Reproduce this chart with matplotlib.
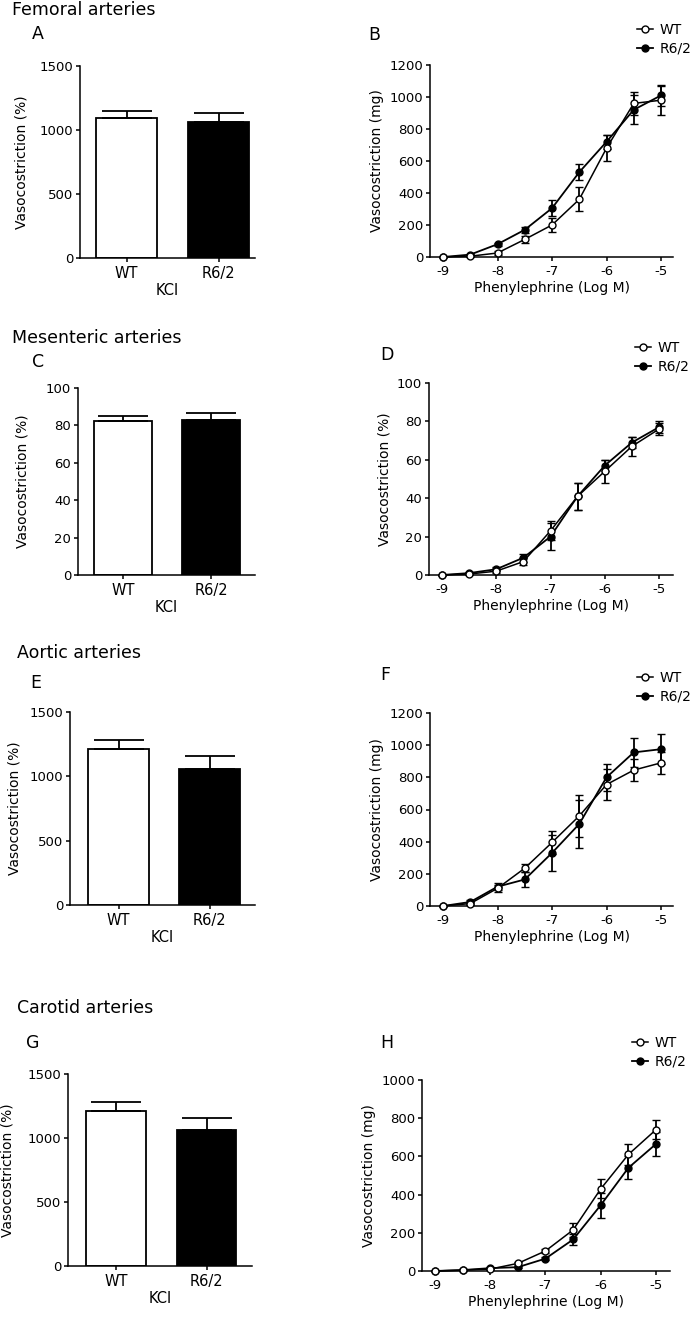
import matplotlib
matplotlib.use("Agg")
import matplotlib.pyplot as plt

# ---------------- data ----------------
groups = ["WT", "R6/2"]
log_pe = [-9, -8.5, -8, -7.5, -7, -6.5, -6, -5.5, -5]

femoral_kcl = [1095, 1060]
femoral_kcl_err = [55, 70]
mesenteric_kcl = [82.5, 83]
mesenteric_kcl_err = [2.5, 3.5]
aortic_kcl = [1210, 1060]
aortic_kcl_err = [75, 95]
carotid_kcl = [1210, 1060]
carotid_kcl_err = [75, 95]

fem_wt = [0, 5, 25, 110, 200, 360, 680, 960, 980]
fem_wt_err = [0, 5, 10, 20, 45, 75, 80, 70, 90]
fem_r62 = [0, 15, 80, 170, 305, 530, 720, 920, 1010]
fem_r62_err = [0, 5, 10, 20, 50, 50, 45, 90, 65]

mes_wt = [0, 0.5, 2, 7, 23, 41, 54, 67, 76]
mes_wt_err = [0, 0.5, 1, 2, 5, 7, 6, 5, 3]
mes_r62 = [0, 1, 3, 9, 20, 41, 57, 69, 77]
mes_r62_err = [0, 0.5, 1, 2, 7, 7, 3, 3, 3]

aor_wt = [0, 15, 110, 235, 395, 560, 755, 845, 890]
aor_wt_err = [0, 8, 20, 25, 70, 130, 95, 70, 70]
aor_r62 = [0, 25, 120, 165, 330, 510, 800, 955, 975]
aor_r62_err = [0, 10, 20, 45, 110, 150, 85, 90, 95]

car_wt = [0, 5, 10, 40, 105, 215, 430, 610, 740]
car_wt_err = [0, 3, 5, 8, 12, 35, 50, 55, 50]
car_r62 = [0, 5, 15, 20, 65, 165, 345, 540, 665]
car_r62_err = [0, 3, 5, 5, 10, 30, 65, 60, 65]

section_titles = ["Femoral arteries", "Mesenteric arteries", "Aortic arteries", "Carotid arteries"]

# ---------------- layout (pixels) ----------------
W, H = 697, 1320
FONT = "DejaVu Sans"
plt.rcParams["font.family"] = [FONT]

fig = plt.figure(figsize=(W / 100, H / 100), dpi=100)


def px_axes(x0, x1, ytop, ybot):
    return fig.add_axes([x0 / W, 1 - ybot / H, (x1 - x0) / W, (ybot - ytop) / H])


def style(ax):
    for s in ["top", "right"]:
        ax.spines[s].set_visible(False)
    for s in ["left", "bottom"]:
        ax.spines[s].set_linewidth(1.1)
    ax.tick_params(direction="out", length=3, width=1.1, labelsize=9.5, pad=2)


def ftext(x, y, s, **kw):
    fig.text(x / W, 1 - y / H, s, **kw)


bar_layout = [
    # x0, x1, ytop, ybot, c0, c1, ylabel_x
    (80, 255, 66, 258, 126.5, 218.5, 22),
    (78, 255, 388, 575, 123, 211, 23),
    (70, 255, 712, 905, 118.5, 209.5, 15),
    (68, 252, 1074, 1266, 116, 206.5, 8),
]
bar_data = [
    (femoral_kcl, femoral_kcl_err, 1500, 500),
    (mesenteric_kcl, mesenteric_kcl_err, 100, 20),
    (aortic_kcl, aortic_kcl_err, 1500, 500),
    (carotid_kcl, carotid_kcl_err, 1500, 500),
]

for (x0, x1, yt, yb, c0, c1, ylx), (vals, errs, ymax, step) in zip(bar_layout, bar_data):
    ax = px_axes(x0, x1, yt, yb)
    style(ax)
    sp = c1 - c0
    xpos = [0, 1]
    ax.bar(xpos, vals, width=0.66, color=["white", "black"], edgecolor="black",
           linewidth=1.3, zorder=2)
    ax.errorbar(xpos, vals, yerr=[[0, 0], errs], fmt="none", ecolor="black",
                elinewidth=1.3, capsize=18, capthick=1.3, zorder=3)
    ax.set_xlim(-(c0 - x0) / sp, 1 + (x1 - c1) / sp)
    ax.set_ylim(0, ymax)
    ax.set_yticks(list(range(0, ymax + 1, step)))
    ax.set_xticks(xpos)
    ax.set_xticklabels(groups, fontsize=10.5)
    ax.tick_params(axis="x", pad=3)
    ax.set_xlabel("KCl", fontsize=10.5, labelpad=1)
    ftext(ylx, (yt + yb) / 2, "Vasocostriction (%)", rotation=90, ha="center",
          va="center", fontsize=10)

line_layout = [
    # x0, x1, ytop, ybot, px of -9, px of -5, legend handle left, legend first row y
    (430, 673, 65, 257, 443, 661, 637, 32),
    (429, 673, 383, 575, 442, 659, 635, 350),
    (430, 673, 713, 906, 443, 661, 637, 680),
    (422, 670, 1080, 1271, 435, 656, 632, 1045),
]
line_data = [
    (fem_wt, fem_wt_err, fem_r62, fem_r62_err, 1200, 200, "Vasocostriction (mg)"),
    (mes_wt, mes_wt_err, mes_r62, mes_r62_err, 100, 20, "Vasocostriction (%)"),
    (aor_wt, aor_wt_err, aor_r62, aor_r62_err, 1200, 200, "Vasocostriction (mg)"),
    (car_wt, car_wt_err, car_r62, car_r62_err, 1000, 200, "Vasocostriction (mg)"),
]

for (x0, x1, yt, yb, p9, p5, lgx, lgy), (wt, wte, r6, r6e, ymax, step, ylab) in zip(line_layout, line_data):
    ax = px_axes(x0, x1, yt, yb)
    style(ax)
    ppu = (p5 - p9) / 4.0
    r = ax.errorbar(log_pe, r6, yerr=r6e, fmt="-o", color="black", mfc="black",
                    mec="black", ms=5, mew=1.0, lw=1.3, elinewidth=1.3, capsize=2.8,
                    capthick=1.3, clip_on=False, zorder=3)
    w = ax.errorbar(log_pe, wt, yerr=wte, fmt="-o", color="black", mfc="white",
                    mec="black", ms=5, mew=1.0, lw=1.1, elinewidth=1.3, capsize=2.8,
                    capthick=1.3, clip_on=False, zorder=4)
    for c in (r, w):
        for art in c.lines[1] + c.lines[2]:
            art.set_clip_on(False)
    ax.set_xlim(-9 - (p9 - x0) / ppu, -5 + (x1 - p5) / ppu)
    ax.set_ylim(0, ymax)
    ax.set_yticks(list(range(0, ymax + 1, step)))
    ax.set_xticks([-9, -8, -7, -6, -5])
    ax.set_xticklabels(["-9", "-8", "-7", "-6", "-5"])
    ax.tick_params(axis="x", pad=3)
    ax.set_xlabel("Phenylephrine (Log M)", fontsize=10, labelpad=2)
    ax.set_ylabel(ylab, fontsize=10, labelpad=4)
    leg = ax.legend([w[0], r[0]], groups, loc="upper left",
                    bbox_to_anchor=(lgx / W, 1 - (lgy - 9) / H),
                    bbox_transform=fig.transFigure, frameon=False, fontsize=10,
                    handlelength=1.15, handletextpad=0.5, labelspacing=0.35,
                    borderpad=0, borderaxespad=0, numpoints=1)

# section titles and panel letters
title_pos = [(12, 10), (12, 338), (17, 653), (17, 1008)]
for (tx, ty), t in zip(title_pos, section_titles):
    ftext(tx, ty, t, ha="left", va="center", fontsize=12.5)

letters = [("A", 32, 34), ("B", 368, 35), ("C", 32, 362), ("D", 380, 355),
           ("E", 30, 683), ("F", 380, 675), ("G", 26, 1043), ("H", 380, 1043)]
for s, lx, ly in letters:
    ftext(lx, ly, s, ha="left", va="center", fontsize=12.5)

fig.savefig("out.png", dpi=100)
